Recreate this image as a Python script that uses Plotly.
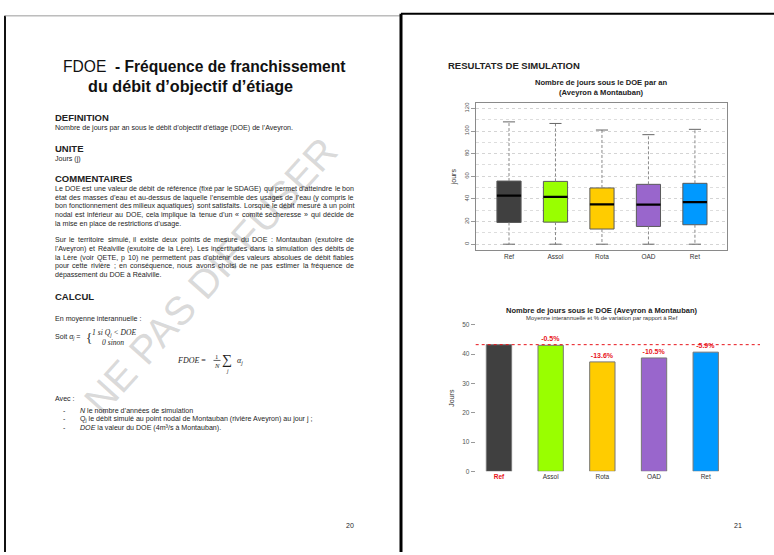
import plotly.graph_objects as go

W, H = 774, 555

# ---------------- data ----------------
scenarios = ["Ref", "Assol", "Rota", "OAD", "Ret"]
scenario_colors = ["#404040", "#99ff00", "#ffcc00", "#9966cc", "#0099ff"]

box_min = [0, 0, 0, 0, 0]
box_q1 = [19.2, 19.5, 13.4, 15.7, 17.2]
box_median = [43.0, 41.9, 35.2, 34.9, 37.2]
box_q3 = [55.8, 55.5, 49.7, 52.9, 53.8]
box_max = [108.1, 106.7, 100.9, 96.8, 101.5]

mean_days = [43.25, 43.03, 37.37, 38.71, 40.70]
variation_labels = ["", "-0.5%", "-13.6%", "-10.5%", "-5.9%"]

box_yticks = [0, 20, 40, 60, 80, 100, 120]
bar_yticks = [0, 10, 20, 30, 40, 50]

FONT = "Liberation Sans"
SERIF = "Liberation Serif"


def px(x):
    return x / W


def py(y):
    return 1 - y / H


fig = go.Figure()
pos = list(range(len(scenarios)))

# ---------------- box plot (drawn from quartiles) ----------------
fig.add_trace(go.Bar(
    x=pos, y=[q3 - q1 for q1, q3 in zip(box_q1, box_q3)], base=box_q1,
    width=0.52, marker=dict(color=scenario_colors, line=dict(color="#5a5a5a", width=1)),
    xaxis="x", yaxis="y", showlegend=False, hoverinfo="skip"))

wx, wy, cx, cy, mx, my = [], [], [], [], [], []
for i in pos:
    wx += [i, i, None, i, i, None]
    wy += [box_q3[i], box_max[i], None, box_q1[i], box_min[i], None]
    cx += [i - 0.13, i + 0.13, None, i - 0.13, i + 0.13, None]
    cy += [box_max[i], box_max[i], None, box_min[i], box_min[i], None]
    mx += [i - 0.26, i + 0.26, None]
    my += [box_median[i], box_median[i], None]

fig.add_trace(go.Scatter(x=wx, y=wy, mode="lines", line=dict(color="#888888", width=1, dash="3px,2px"),
                         xaxis="x", yaxis="y", showlegend=False, hoverinfo="skip"))
fig.add_trace(go.Scatter(x=cx, y=cy, mode="lines", line=dict(color="#666666", width=1),
                         xaxis="x", yaxis="y", showlegend=False, hoverinfo="skip"))
fig.add_trace(go.Scatter(x=mx, y=my, mode="lines", line=dict(color="#000000", width=2.2),
                         xaxis="x", yaxis="y", showlegend=False, hoverinfo="skip"))

# ---------------- bar chart ----------------
fig.add_trace(go.Bar(
    x=pos, y=mean_days, width=0.49,
    marker=dict(color=scenario_colors, line=dict(color="#777777", width=1)),
    text=[("<b>%s</b>" % t) if t else " " for t in variation_labels], textposition="outside",
    textfont=dict(family=FONT, size=7, color="#e8141b"), constraintext="none",
    cliponaxis=False, xaxis="x2", yaxis="y2", showlegend=False, hoverinfo="skip"))

ref_tick = ["<b><span style='color:#e8141b'>%s</span></b>" % scenarios[0]] + scenarios[1:]

fig.update_layout(
    width=W, height=H, margin=dict(l=0, r=0, t=0, b=0),
    paper_bgcolor="white", plot_bgcolor="white",
    font=dict(family=FONT, color="#222222"),
    bargap=0, hovermode=False,
    xaxis=dict(domain=[px(476), px(727)], range=[-0.71, 4.69], tickvals=pos, ticktext=scenarios,
               showgrid=False, zeroline=False, showline=True, mirror=True, linecolor="#8a8a8a",
               linewidth=1, ticks="", tickfont=dict(size=6.5, color="#333333"), anchor="y"),
    yaxis=dict(domain=[py(249), py(100.7)], range=[-5, 124.4], tickvals=box_yticks,
               tickangle=-90, ticks="outside", ticklen=4, tickcolor="#999999",
               tickfont=dict(size=6, color="#555555"), showline=True, mirror=True,
               linecolor="#8a8a8a", linewidth=1, zeroline=False,
               showgrid=True, gridcolor="#d4d4d4", griddash="dot", gridwidth=1,
               minor=dict(dtick=10, showgrid=True, gridcolor="#dddddd", griddash="dot"),
               title=dict(text="jours", font=dict(size=7, color="#333333"), standoff=6),
               anchor="x"),
    xaxis2=dict(domain=[px(475.7), px(760)], range=[-0.45, 5.05], tickvals=pos, ticktext=ref_tick,
                showgrid=False, zeroline=False, showline=False, ticks="",
                tickfont=dict(size=6.5, color="#333333"), anchor="y2"),
    yaxis2=dict(domain=[py(473.3), py(325)], range=[0, 50], tickvals=bar_yticks,
                ticks="outside", ticklen=4, tickcolor="#999999",
                tickfont=dict(size=6.5, color="#555555"), showline=False, zeroline=False,
                showgrid=False,
                title=dict(text="Jours", font=dict(size=7, color="#333333"), standoff=6),
                anchor="x2"),
)

fig.add_shape(type="line", xref="x2 domain", x0=0, x1=1, yref="y2", y0=mean_days[0], y1=mean_days[0],
              line=dict(color="#e8141b", width=1, dash="dot"))

# ---------------- page borders ----------------
shapes = [
    dict(x0=px(5), x1=px(5), y0=py(12), y1=0, color="#111111", width=2),
    dict(x0=px(5), x1=px(401), y0=py(12), y1=py(12), color="#9a9a9a", width=1),
    dict(x0=px(401), x1=px(401), y0=py(10), y1=0, color="#000000", width=3),
    dict(x0=px(401), x1=1, y0=py(10), y1=py(10), color="#000000", width=2),
]
for s in shapes:
    fig.add_shape(type="line", xref="paper", yref="paper", x0=s["x0"], x1=s["x1"], y0=s["y0"], y1=s["y1"],
                  line=dict(color=s["color"], width=s["width"]))

ann = []


def txt(x, y, s, size, anchor="left", color="#1e1e1e", family=FONT, angle=0):
    ann.append(dict(x=px(x), y=py(y), xref="paper", yref="paper", text=s, showarrow=False,
                    xanchor=anchor, yanchor="middle", textangle=angle,
                    font=dict(family=family, size=size, color=color)))


# Arial / Liberation Sans advance widths (1/1000 em) for justified layout
AW = {" ": 278, "(": 333, ")": 333, ",": 278, "-": 333, ".": 278, ":": 278, ";": 278, "’": 222,
      "«": 556, "»": 556, "0": 556, "1": 556, "2": 556, "3": 556, "4": 556, "5": 556, "6": 556,
      "7": 556, "8": 556, "9": 556,
      "A": 667, "B": 667, "C": 722, "D": 722, "E": 667, "F": 611, "G": 778, "H": 722, "I": 278,
      "J": 500, "K": 667, "L": 556, "M": 833, "N": 722, "O": 778, "P": 667, "Q": 778, "R": 722,
      "S": 667, "T": 611, "U": 722, "V": 667, "W": 944, "X": 667, "Y": 667, "Z": 611,
      "a": 556, "b": 556, "c": 500, "d": 556, "e": 556, "f": 278, "g": 556, "h": 556, "i": 222,
      "j": 222, "k": 500, "l": 222, "m": 833, "n": 556, "o": 556, "p": 556, "q": 556, "r": 333,
      "s": 500, "t": 278, "u": 556, "v": 500, "w": 722, "x": 500, "y": 500, "z": 500,
      "é": 556, "è": 556, "ê": 556, "à": 556, "â": 556, "ï": 222, "î": 278, "ô": 556, "ù": 556,
      "ç": 500}


def width_of(s, size):
    return sum(AW.get(c, 556) for c in s) / 1000.0 * size


def justified(x0, x1, y, line, size):
    words = line.split(" ")
    total = sum(width_of(w, size) for w in words)
    gap = (x1 - x0 - total) / max(len(words) - 1, 1)
    gap = max(gap, 0.2 * size)
    x = x0
    for w in words:
        txt(x, y, w, size)
        x += width_of(w, size) + gap


BODY = 7.1

# watermark first (underneath)
txt(210, 275, "NE PAS DIFFUSER", 40, anchor="center", color="rgba(165,165,165,0.42)", angle=-48)

# left page
txt(204, 63, "FDOE  <b>- Fréquence de franchissement</b>", 15.6, anchor="center", color="#111111")
txt(190, 83, "<b>du débit d’objectif d’étiage</b>", 16.2, anchor="center", color="#111111")

txt(53, 115, "<b>DEFINITION</b>", 9.5, color="#222222")
txt(53, 126, "Nombre de jours par an sous le débit d’objectif d’étiage (DOE) de l’Aveyron.", BODY)
txt(53, 146, "<b>UNITE</b>", 9.5, color="#222222")
txt(53, 157, "Jours (j)", BODY)
txt(53, 177, "<b>COMMENTAIRES</b>", 9.5, color="#222222")

para1 = [
    "Le DOE est une valeur de débit de référence (fixé par le SDAGE) qui permet d’atteindre le bon",
    "état des masses d’eau et au-dessus de laquelle l’ensemble des usages de l’eau (y compris le",
    "bon fonctionnement des milieux aquatiques) sont satisfaits. Lorsque le débit mesuré à un point",
    "nodal est inférieur au DOE, cela implique la tenue d’un « comité sécheresse » qui décide de",
    "la mise en place de restrictions d’usage.",
]
para2 = [
    "Sur le territoire simulé, il existe deux points de mesure du DOE : Montauban (exutoire de",
    "l’Aveyron) et Réalville (exutoire de la Lère). Les incertitudes dans la simulation des débits de",
    "la Lère (voir QETE, p 10) ne permettent pas d’obtenir des valeurs absolues de débit fiables",
    "pour cette rivière ; en conséquence, nous avons choisi de ne pas estimer la fréquence de",
    "dépassement du DOE à Réalville.",
]
for para, y0 in ((para1, 187.5), (para2, 239.5)):
    for k, line in enumerate(para):
        y = y0 + 8.75 * k
        if k < len(para) - 1:
            justified(53, 352, y, line, BODY)
        else:
            txt(53, y, line, BODY)

txt(53, 296, "<b>CALCUL</b>", 9.5, color="#222222")
txt(53, 319, "En moyenne interannuelle :", BODY)
txt(53, 337, "Soit <i>α<sub>j</sub></i> =", BODY)
txt(84, 337.5, "{", 13, family=SERIF)
txt(90, 333, "<i>1 si Q<sub>j</sub> &lt; DOE</i>", 7.6, family=SERIF)
txt(100, 343, "<i>0 sinon</i>", 7.6, family=SERIF)

txt(175, 361, "<i>FDOE</i> =", 8, family=SERIF)
txt(217, 356.5, "1", 6.6, anchor="center", family=SERIF)
txt(217, 366, "<i>N</i>", 6.6, anchor="center", family=SERIF)
fig.add_shape(type="line", xref="paper", yref="paper", x0=px(213.5), x1=px(220.5), y0=py(361), y1=py(361),
              line=dict(color="#222222", width=0.7))
txt(227, 360, "∑", 14, anchor="center", family=SERIF)
txt(227, 372, "<i>j</i>", 5.6, anchor="center", family=SERIF)
txt(235, 361.5, "<i>α<sub>j</sub></i>", 8, family=SERIF)

txt(53, 400, "Avec :", BODY)
bullets = [
    "<i>N</i> le nombre d’années de simulation",
    "Q<sub>j</sub> le débit simulé au point nodal de Montauban (rivière Aveyron) au jour j ;",
    "<i>DOE</i> la valeur du DOE (4m³/s à Montauban).",
]
for k, b in enumerate(bullets):
    txt(61, 412 + 8.75 * k, "-", BODY)
    txt(78, 412 + 8.75 * k, b, BODY)

txt(350, 528, "20", 7, anchor="center")

# right page
txt(446, 62, "<b>RESULTATS DE SIMULATION</b>", 9.5, color="#222222")
txt(601, 80, "<b>Nombre de jours sous le DOE par an</b>", 7.6, anchor="center", color="#222222")
txt(601, 90, "<b>(Aveyron à Montauban)</b>", 7.6, anchor="center", color="#222222")
txt(602, 310, "<b>Nombre de jours sous le DOE (Aveyron à Montauban)</b>", 7.5, anchor="center", color="#222222")
txt(602, 318.5, "Moyenne interannuelle et % de variation par rapport à Ref", 5.9, anchor="center", color="#333333")
txt(738, 528, "21", 7, anchor="center")

fig.update_layout(annotations=ann)
fig.write_html("out.html", config={"displayModeBar": False, "staticPlot": True},
               post_script="document.body.style.margin='0px';")
